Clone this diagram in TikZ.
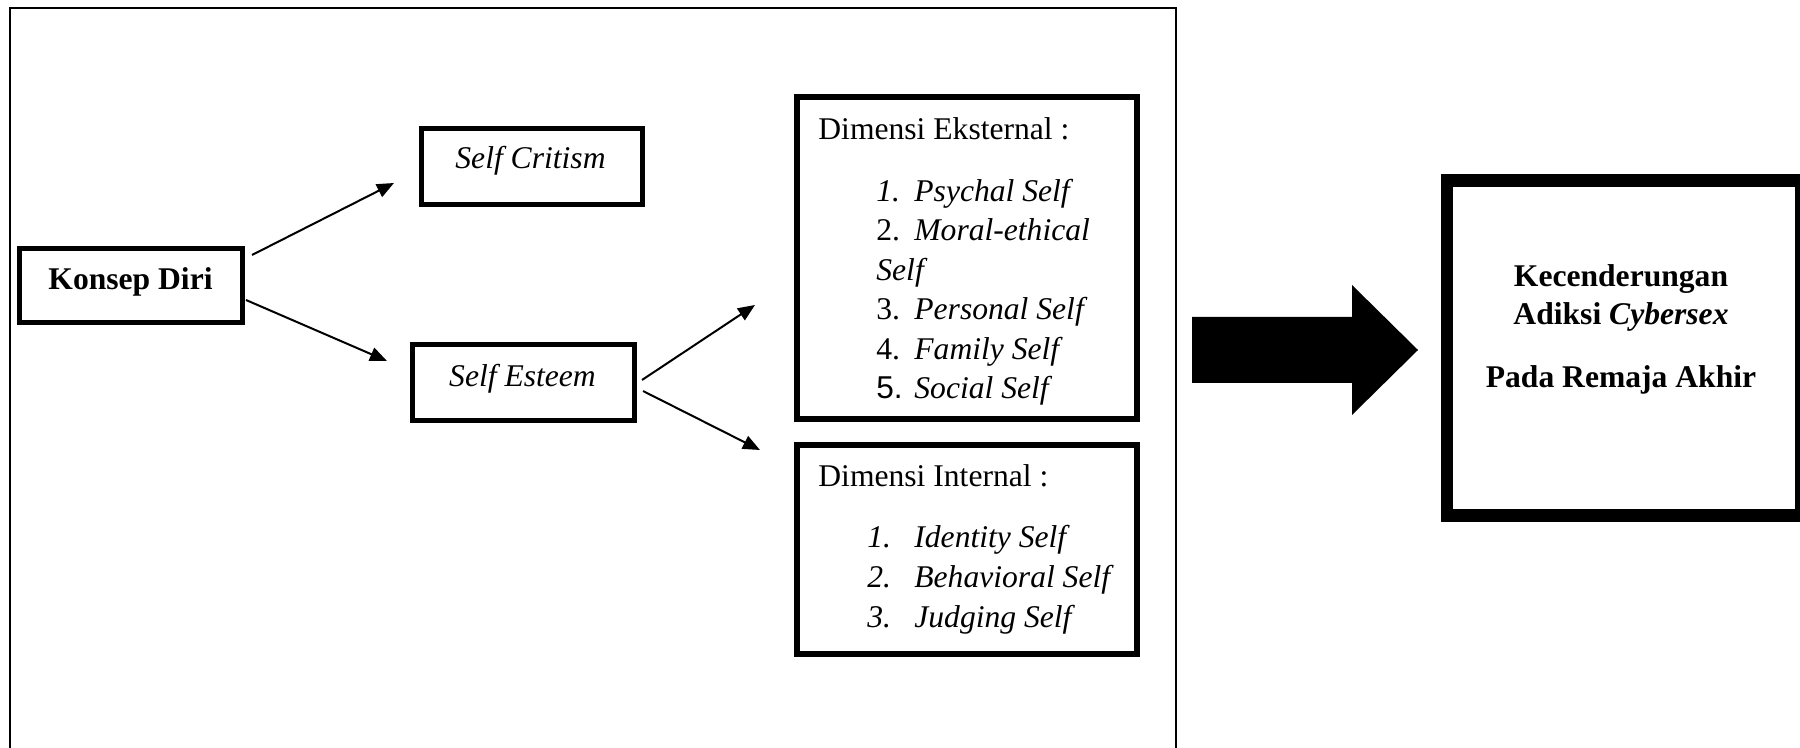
\documentclass[tikz,border=0pt]{standalone}
\usepackage{fontspec}
\setmainfont{Liberation Serif}
\newfontfamily\arialfont{Liberation Sans}
\usetikzlibrary{arrows.meta}
\begin{document}
\begin{tikzpicture}[x=0.5pt,y=-0.5pt,
  every node/.style={font=\fontsize{15.8pt}{19.75pt}\selectfont},
  txt/.style={inner sep=0pt},
  boxa/.style={draw,line width=2.5pt,inner sep=0pt},
  boxb/.style={draw,line width=3pt,inner sep=0pt},
  bigbox/.style={draw,line width=6.25pt,inner sep=0pt},
  conn/.style={line width=1pt,-{Triangle[length=8.5pt,width=7pt]}},
  frame/.style={line width=1pt}
]
\useasboundingbox (0,0) rectangle (1800,748);
\fill[white] (0,0) rectangle (1800,748);

% outer frame (open at bottom)
\draw[frame] (9.5,748) -- (9.5,8) -- (1176,8) -- (1176,748);

% boxes
\node[boxa,minimum width=111.5pt,minimum height=37pt] (ko) at (131,285.5) {};
\node[boxa,minimum width=110.5pt,minimum height=38pt] (sc) at (532,166.5) {};
\node[boxa,minimum width=111pt,minimum height=38pt] (se) at (523.5,382.5) {};
\node[boxb,minimum width=170pt,minimum height=161pt] (ek) at (967,258) {};
\node[boxb,minimum width=170pt,minimum height=104.5pt] (in) at (967,549.5) {};
\node[bigbox,minimum width=177pt,minimum height=167.6pt] (rb) at (1624,348.1) {};

% box texts
\node[txt,anchor=base] (kot) at (130.5,290) {\textbf{Konsep Diri}};
\node[txt,anchor=base] (sct) at (530.5,169) {\textit{Self Critism}};
\node[txt,anchor=base] (set) at (522.5,386.5) {\textit{Self Esteem}};

% Dimensi Eksternal
\node[txt,anchor=base west] (ekh) at (818,140) {Dimensi Eksternal :};
\node[txt,anchor=base west] (ek1n) at (876,201.5) {\textit{1.}};
\node[txt,anchor=base west] (ek1) at (914,201.5) {\textit{Psychal Self}};
\node[txt,anchor=base west] (ek2n) at (876,241) {2.};
\node[txt,anchor=base west] (ek2) at (914,241) {\textit{Moral-ethical}};
\node[txt,anchor=base west] (ek2b) at (876,280.5) {\textit{Self}};
\node[txt,anchor=base west] (ek3n) at (876,320) {3.};
\node[txt,anchor=base west] (ek3) at (914,320) {\textit{Personal Self}};
\node[txt,anchor=base west] (ek4n) at (876,359.5) {4.};
\node[txt,anchor=base west] (ek4) at (914,359.5) {\textit{Family Self}};
\node[txt,anchor=base west] (ek5n) at (876,399) {{\arialfont 5.}};
\node[txt,anchor=base west] (ek5) at (914,399) {\textit{Social Self}};

% Dimensi Internal
\node[txt,anchor=base west] (inh) at (818,487) {Dimensi Internal :};
\node[txt,anchor=base west] (in1n) at (867,547.5) {\textit{1.}};
\node[txt,anchor=base west] (in1) at (914,547.5) {\textit{Identity Self}};
\node[txt,anchor=base west] (in2n) at (867,588) {\textit{2.}};
\node[txt,anchor=base west] (in2) at (914,588) {\textit{Behavioral Self}};
\node[txt,anchor=base west] (in3n) at (867,627) {\textit{3.}};
\node[txt,anchor=base west] (in3) at (914,627) {\textit{Judging Self}};

% result box text
\node[txt,anchor=base] (r1) at (1621,287) {\textbf{Kecenderungan}};
\node[txt,anchor=base] (r2) at (1621,325) {\textbf{Adiksi \textit{Cybersex}}};
\node[txt,anchor=base] (r3) at (1621,388) {\textbf{Pada Remaja Akhir}};

% connectors
\coordinate (a1s) at (252,255);  \coordinate (a1e) at (394,183);
\coordinate (a2s) at (246,300);  \coordinate (a2e) at (387,361);
\coordinate (a3s) at (642,380);  \coordinate (a3e) at (755,305);
\coordinate (a4s) at (643,391);  \coordinate (a4e) at (760,450);
\draw[conn] (a1s) -- (a1e);
\draw[conn] (a2s) -- (a2e);
\draw[conn] (a3s) -- (a3e);
\draw[conn] (a4s) -- (a4e);

% block arrow
\fill[black] (1192,317) -- (1352,317) -- (1352,285) -- (1418,350) -- (1352,415) -- (1352,383) -- (1192,383) -- cycle;
\end{tikzpicture}
\end{document}
